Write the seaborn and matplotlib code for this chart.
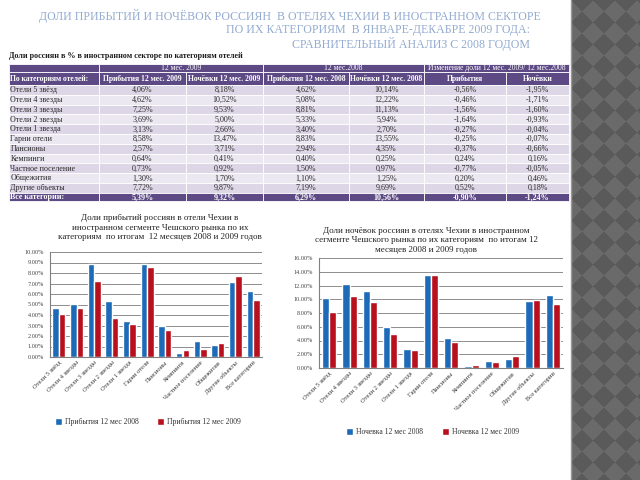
import numpy as np
import pandas as pd
import matplotlib
matplotlib.use("Agg")
import matplotlib.pyplot as plt
from matplotlib.patches import Rectangle
from matplotlib.colors import ListedColormap
from matplotlib.ticker import PercentFormatter, MultipleLocator, FixedLocator
import seaborn as sns

# ---- data ----
categories = ["Отели 5 звёзд", "Отели 4 звезды", "Отели 3 звезды", "Отели 2 звезды",
              "Отели 1 звезда", "Гарни отели", "Пансионы", "Кемпинги",
              "Частное поселение", "Общежития", "Другие объекты", "Все категории"]

arrivals_2009 = [4.06, 4.62, 7.25, 3.69, 3.13, 8.58, 2.57, 0.64, 0.73, 1.30, 7.72, 5.39]
nights_2009 = [8.18, 10.52, 9.53, 5.00, 2.66, 13.47, 3.71, 0.41, 0.92, 1.70, 9.87, 9.32]
arrivals_2008 = [4.62, 5.08, 8.81, 5.33, 3.40, 8.83, 2.94, 0.40, 1.50, 1.10, 7.19, 6.29]
nights_2008 = [10.14, 12.22, 11.13, 5.94, 2.70, 13.55, 4.35, 0.25, 0.97, 1.25, 9.69, 10.56]
arrivals_change = [-0.56, -0.46, -1.56, -1.64, -0.27, -0.25, -0.37, 0.24, -0.77, 0.20, 0.52, -0.90]
nights_change = [-1.95, -1.71, -1.60, -0.93, -0.04, -0.07, -0.66, 0.16, -0.05, 0.46, 0.18, -1.24]

table_columns = ["Прибытия 12 мес. 2009", "Ночёвки 12 мес. 2009", "Прибытия 12 мес. 2008",
                 "Ночёвки 12 мес. 2008", "Прибытия", "Ночёвки"]
table_groups = ["12 мес. 2009", "12 мес.2008", "Изменение доли 12 мес. 2009/ 12 мес.2008"]

slide_title = ["ДОЛИ ПРИБЫТИЙ И НОЧЁВОК РОССИЯН  В ОТЕЛЯХ ЧЕХИИ В ИНОСТРАННОМ СЕКТОРЕ",
               "ПО ИХ КАТЕГОРИЯМ  В ЯНВАРЕ-ДЕКАБРЕ 2009 ГОДА:",
               "СРАВНИТЕЛЬНЫЙ АНАЛИЗ С 2008 ГОДОМ"]
table_caption = "Доли россиян в % в иностранном секторе по категориям отелей"

left_title = ("Доли прибытий россиян в отели Чехии в\n"
              "иностранном сегменте Чешского рынка по их\n"
              "категориям  по итогам  12 месяцев 2008 и 2009 годов")
right_title = ("Доли ночёвок россиян в отелях Чехии в иностранном\n"
               "сегменте Чешского рынка по их категориям  по итогам 12\n"
               "месяцев 2008 и 2009 годов")
left_series = ["Прибытия 12 мес 2008", "Прибытия 12 мес 2009"]
right_series = ["Ночевка 12 мес 2008", "Ночевка 12 мес 2009"]

BLUE = "#1c6ab8"
RED = "#b8101c"
PURPLE = "#5d4a85"

sns.set_style("white")
plt.rcParams['font.family'] = ['Liberation Serif', 'DejaVu Serif']

fig = plt.figure(figsize=(6.4, 4.8), dpi=100)
canvas = fig.add_axes([0, 0, 1, 1])
canvas.axis('off')

# decorative strip on the right
yy, xx = np.mgrid[0:480, 0:69]
s = 22
pattern = (np.floor((xx + yy) / s) + np.floor((xx - yy) / s)) % 2
canvas.imshow(pattern, cmap=ListedColormap(['#5a5a5a', '#6a6a6a']),
              extent=(571, 640, 480, 0), aspect='auto', interpolation='nearest')
canvas.plot([571, 571], [0, 480], color='#9a9a9a', lw=1)
canvas.set_xlim(0, 640)
canvas.set_ylim(480, 0)

# slide title
for line, x, y in zip(slide_title, [541, 530, 530], [16, 30, 44]):
    canvas.text(x, y, line, ha='right', va='center', color='#93abd0', fontsize=8.6)


def pct(v):
    return f"{v:.2f}%".replace('.', ',')


# ---- table ----
col_edges = [9, 99, 186, 263, 349, 424, 506, 569]
y0 = 64
h1, h2, rh = 8, 13, 9.8
canvas.text(9, 60, table_caption, ha='left', va='bottom', fontsize=5.8,
            fontweight='bold', color='#1a1a1a')

spans = [(0, 1, ""), (1, 3, table_groups[0]), (3, 5, table_groups[1]), (5, 7, table_groups[2])]
for a, b, label in spans:
    canvas.add_patch(Rectangle((col_edges[a], y0), col_edges[b] - col_edges[a], h1,
                               facecolor=PURPLE, edgecolor='white', lw=0.6))
    canvas.text((col_edges[a] + col_edges[b]) / 2, y0 + h1 / 2, label, ha='center',
                va='center', color='white', fontsize=5.5)

y = y0 + h1
header = ["По категориям отелей:"] + table_columns
for i, label in enumerate(header):
    canvas.add_patch(Rectangle((col_edges[i], y), col_edges[i + 1] - col_edges[i], h2,
                               facecolor=PURPLE, edgecolor='white', lw=0.6))
    if i == 0:
        canvas.text(col_edges[i] + 1.5, y + h2 / 2 + 0.5, label, ha='left', va='center',
                    color='white', fontsize=5.5, fontweight='bold')
    else:
        canvas.text((col_edges[i] + col_edges[i + 1]) / 2, y + h2 / 2 + 0.5, label,
                    ha='center', va='center', color='white', fontsize=5.5, fontweight='bold')

y += h2
n = len(categories)
for r in range(n):
    last = r == n - 1
    name = categories[r] + (":" if last else "")
    values = [arrivals_2009[r], nights_2009[r], arrivals_2008[r], nights_2008[r],
              arrivals_change[r], nights_change[r]]
    h = 8.5 if last else rh
    fc = PURPLE if last else ('#dcd6e6' if r % 2 == 0 else '#ebe8f1')
    tc = 'white' if last else '#2a2a2a'
    fw = 'bold' if last else 'normal'
    for i in range(7):
        canvas.add_patch(Rectangle((col_edges[i], y), col_edges[i + 1] - col_edges[i], h,
                                   facecolor=fc, edgecolor='white', lw=0.6))
    canvas.text(col_edges[0] + 1.5, y + h / 2 + 0.3, name, ha='left', va='center',
                color=tc, fontsize=5.8, fontweight=fw)
    for i, v in enumerate(values, start=1):
        canvas.text((col_edges[i] + col_edges[i + 1]) / 2, y + h / 2 + 0.3, pct(v),
                    ha='center', va='center', color=tc, fontsize=5.8, fontweight=fw)
    y += h


# ---- bar charts ----
def bar_chart(rect, first, second, names, ymax, step, title, title_xy, legend_xy):
    ax = fig.add_axes(rect)
    df = pd.DataFrame({
        'cat': categories * 2,
        'val': first + second,
        'series': [names[0]] * len(categories) + [names[1]] * len(categories),
    })
    sns.barplot(data=df, x='cat', y='val', hue='series', palette=[BLUE, RED],
                saturation=1, width=0.72, ax=ax)
    ax.set_ylim(0, ymax)
    ax.set_xlim(-0.5, len(categories) - 0.5)
    ax.yaxis.set_major_locator(MultipleLocator(step))
    ax.yaxis.set_major_formatter(PercentFormatter(100, decimals=2))
    ax.grid(axis='y', color='#8c8c8c', lw=0.7)
    ax.set_axisbelow(True)
    for side in ['top', 'right']:
        ax.spines[side].set_visible(False)
    for side in ['left', 'bottom']:
        ax.spines[side].set_color('#808080')
        ax.spines[side].set_linewidth(0.8)
    ax.set_xlabel('')
    ax.set_ylabel('')
    ax.tick_params(axis='y', length=3, width=0.6, color='#808080', labelsize=4.5,
                   labelcolor='#444444', pad=1.5)
    ax.tick_params(axis='x', which='major', length=0, labelsize=4.6,
                   labelcolor='#333333', pad=2)
    ax.xaxis.set_minor_locator(FixedLocator(np.arange(-0.5, len(categories), 1)))
    ax.tick_params(axis='x', which='minor', length=3, width=0.6, color='#808080')
    plt.setp(ax.get_xticklabels(), rotation=45, ha='right', rotation_mode='anchor')

    handles, labels = ax.get_legend_handles_labels()
    ax.get_legend().remove()
    fig.legend(handles, labels, loc='center', bbox_to_anchor=(legend_xy[0] / 640, 1 - legend_xy[1] / 480),
               ncol=2, frameon=False, fontsize=5.5, handlelength=0.9, handleheight=0.9,
               handletextpad=0.4, columnspacing=2.5, labelcolor='#333333')
    canvas.text(title_xy[0], title_xy[1], title, ha='center', va='top', fontsize=6.5,
                color='#222222', linespacing=1.25)
    return ax


bar_chart([50 / 640, 1 - 357 / 480, 212 / 640, 105 / 480], arrivals_2008, arrivals_2009,
          left_series, 10, 1, left_title, (160, 214), (148, 422))
bar_chart([319 / 640, 1 - 368 / 480, 244 / 640, 110 / 480], nights_2008, nights_2009,
          right_series, 16, 2, right_title, (426, 227), (433, 432))

fig.savefig("out.png", dpi=100)
